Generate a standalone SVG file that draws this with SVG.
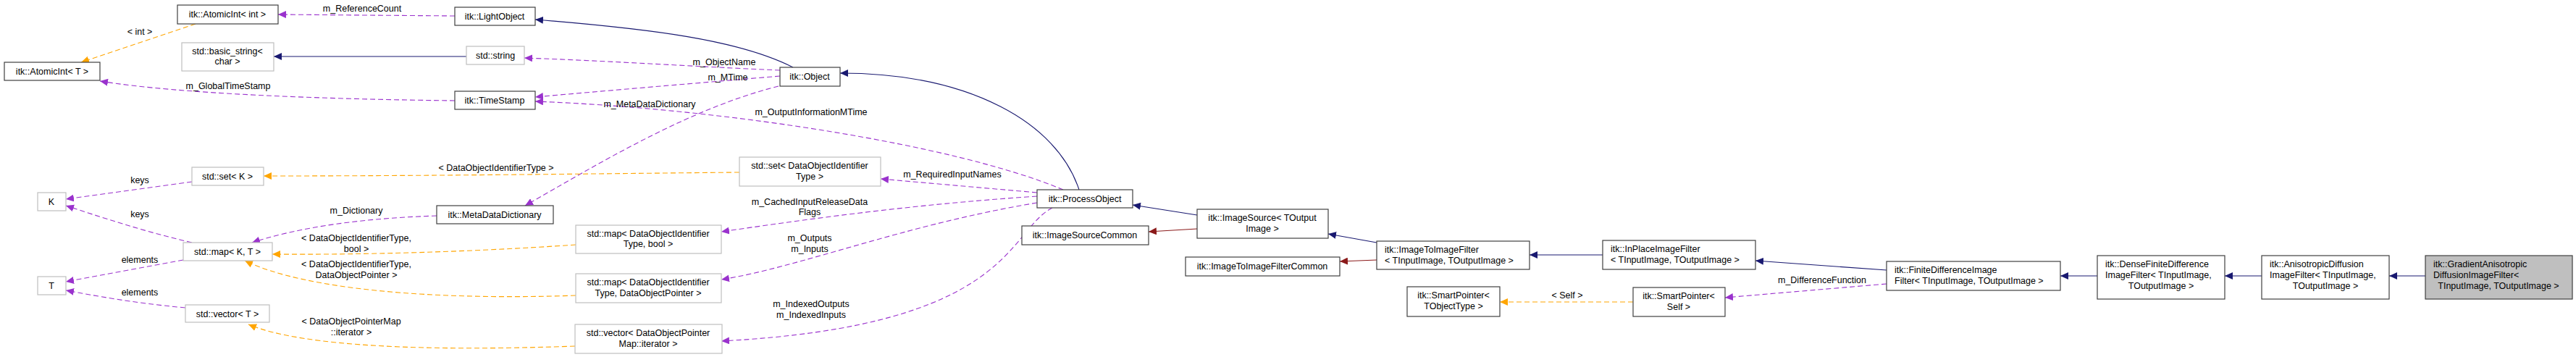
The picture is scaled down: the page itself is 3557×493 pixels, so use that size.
<svg xmlns="http://www.w3.org/2000/svg" width="3557" height="493" viewBox="0 0 3557 493">
<style>
text{font-family:"Liberation Sans",Arial,sans-serif;font-size:12.5px;fill:#000;text-anchor:middle}
text.l{text-anchor:start}
.n rect{fill:#fff;stroke:#404040;stroke-width:1.2}
.g rect{fill:#fff;stroke:#bfbfbf;stroke-width:1.2}
.e path{fill:none;stroke-width:1.1}
.b{stroke:#191970}
.r{stroke:#8b1a1a}
.p{stroke:#9a32cd;stroke-dasharray:7,4}
.o{stroke:#ffa500;stroke-dasharray:7,4}
</style>
<defs>
<marker id="mb" markerWidth="12" markerHeight="10" refX="11" refY="5" orient="auto" markerUnits="userSpaceOnUse"><path d="M0,0L11,5L0,10z" fill="#191970"/></marker>
<marker id="mr" markerWidth="12" markerHeight="10" refX="11" refY="5" orient="auto" markerUnits="userSpaceOnUse"><path d="M0,0L11,5L0,10z" fill="#8b1a1a"/></marker>
<marker id="mp" markerWidth="12" markerHeight="10" refX="11" refY="5" orient="auto" markerUnits="userSpaceOnUse"><path d="M0,0L11,5L0,10z" fill="#9a32cd"/></marker>
<marker id="mo" markerWidth="12" markerHeight="10" refX="11" refY="5" orient="auto" markerUnits="userSpaceOnUse"><path d="M0,0L11,5L0,10z" fill="#ffa500"/></marker>
</defs>
<rect width="3557" height="493" fill="#fff"/>
<g id="edges" class="e">
<path class="b" marker-end="url(#mb)" d="M1095,93C1020,55,900,40,739,27"/>
<path class="b" marker-end="url(#mb)" d="M644,78L378,78"/>
<path class="b" marker-end="url(#mb)" d="M1490,262C1460,170,1340,101,1160,101"/>
<path class="b" marker-end="url(#mb)" d="M1653,297L1564,283"/>
<path class="b" marker-end="url(#mb)" d="M1901,335L1834,323"/>
<path class="b" marker-end="url(#mb)" d="M2213,352L2112,352"/>
<path class="b" marker-end="url(#mb)" d="M2605,373L2424,360"/>
<path class="b" marker-end="url(#mb)" d="M2896,381L2845,381"/>
<path class="b" marker-end="url(#mb)" d="M3123,381L3072,381"/>
<path class="b" marker-end="url(#mb)" d="M3349,381L3299,381"/>
<path class="r" marker-end="url(#mr)" d="M1653,316L1586,320"/>
<path class="r" marker-end="url(#mr)" d="M1901,359L1850,361"/>
<path class="p" marker-end="url(#mp)" d="M628,22L384,20"/>
<path class="p" marker-end="url(#mp)" d="M628,139C450,137,250,130,138,112"/>
<path class="p" marker-end="url(#mp)" d="M1077,97C960,92,840,84,724,80"/>
<path class="p" marker-end="url(#mp)" d="M1077,105C960,115,840,125,739,134"/>
<path class="p" marker-end="url(#mp)" d="M1468,262C1320,200,1000,150,739,140"/>
<path class="p" marker-end="url(#mp)" d="M1075,119C950,150,820,230,725,284"/>
<path class="p" marker-end="url(#mp)" d="M1432,266L1216,247"/>
<path class="p" marker-end="url(#mp)" d="M1432,271C1250,283,1100,305,996,320"/>
<path class="p" marker-end="url(#mp)" d="M1432,280C1250,310,1100,370,996,386"/>
<path class="p" marker-end="url(#mp)" d="M1453,287C1390,320,1400,450,996,471"/>
<path class="p" marker-end="url(#mp)" d="M265,251L91,275"/>
<path class="p" marker-end="url(#mp)" d="M265,335C200,320,140,300,91,284"/>
<path class="p" marker-end="url(#mp)" d="M253,359L91,389"/>
<path class="p" marker-end="url(#mp)" d="M256,425C180,418,130,408,91,401"/>
<path class="p" marker-end="url(#mp)" d="M603,298C480,302,400,318,348,335"/>
<path class="p" marker-end="url(#mp)" d="M2605,392L2382,411"/>
<path class="o" marker-end="url(#mo)" d="M270,33L112,86"/>
<path class="o" marker-end="url(#mo)" d="M1021,238C800,240,600,243,364,243"/>
<path class="o" marker-end="url(#mo)" d="M795,338C650,348,500,352,376,351"/>
<path class="o" marker-end="url(#mo)" d="M795,408C600,415,420,400,338,360"/>
<path class="o" marker-end="url(#mo)" d="M794,478C600,485,420,480,343,448"/>
<path class="o" marker-end="url(#mo)" d="M2255,417L2071,417"/>
</g>
<g id="labels">
<text x="500" y="16">m_ReferenceCount</text>
<text x="315" y="123">m_GlobalTimeStamp</text>
<text x="193" y="48">&lt; int &gt;</text>
<text x="1000" y="90">m_ObjectName</text>
<text x="1005" y="111">m_MTime</text>
<text x="897" y="148">m_MetaDataDictionary</text>
<text x="1120" y="159">m_OutputInformationMTime</text>
<text x="685" y="236">&lt; DataObjectIdentifierType &gt;</text>
<text x="1315" y="245">m_RequiredInputNames</text>
<text x="1118" y="283">m_CachedInputReleaseData</text>
<text x="1118" y="297">Flags</text>
<text x="1118" y="333">m_Outputs</text>
<text x="1118" y="348">m_Inputs</text>
<text x="1120" y="424">m_IndexedOutputs</text>
<text x="1120" y="439">m_IndexedInputs</text>
<text x="193" y="253">keys</text>
<text x="193" y="300">keys</text>
<text x="193" y="363">elements</text>
<text x="193" y="408">elements</text>
<text x="492" y="295">m_Dictionary</text>
<text x="492" y="333">&lt; DataObjectIdentifierType,</text>
<text x="492" y="348">bool &gt;</text>
<text x="492" y="369">&lt; DataObjectIdentifierType,</text>
<text x="492" y="384">DataObjectPointer &gt;</text>
<text x="485" y="448">&lt; DataObjectPointerMap</text>
<text x="485" y="463">::iterator &gt;</text>
<text x="2164" y="412">&lt; Self &gt;</text>
<text x="2516" y="391">m_DifferenceFunction</text>
</g>
<g id="AtomicIntInt" class="n"><rect x="245" y="7" width="139" height="26"/><text x="314" y="24">itk::AtomicInt&lt; int &gt;</text></g>
<g id="basicString" class="g"><rect x="251" y="59" width="127" height="39"/><text x="314" y="75">std::basic_string&lt;</text><text x="314" y="89">char &gt;</text></g>
<g id="AtomicIntT" class="n"><rect x="6" y="86" width="132" height="25"/><text x="72" y="103">itk::AtomicInt&lt; T &gt;</text></g>
<g id="setK" class="g"><rect x="265" y="231" width="99" height="25"/><text x="314" y="248">std::set&lt; K &gt;</text></g>
<g id="K" class="g"><rect x="52" y="266" width="39" height="25"/><text x="71" y="283">K</text></g>
<g id="mapKT" class="g"><rect x="253" y="335" width="123" height="25"/><text x="314" y="352">std::map&lt; K, T &gt;</text></g>
<g id="T" class="g"><rect x="52" y="382" width="39" height="25"/><text x="71" y="399">T</text></g>
<g id="vectorT" class="g"><rect x="256" y="421" width="116" height="24"/><text x="314" y="438">std::vector&lt; T &gt;</text></g>
<g id="LightObject" class="n"><rect x="628" y="10" width="111" height="25"/><text x="683" y="27">itk::LightObject</text></g>
<g id="stdString" class="g"><rect x="644" y="64" width="80" height="25"/><text x="684" y="81">std::string</text></g>
<g id="TimeStamp" class="n"><rect x="628" y="126" width="111" height="25"/><text x="683" y="143">itk::TimeStamp</text></g>
<g id="MetaDataDictionary" class="n"><rect x="603" y="284" width="161" height="25"/><text x="683" y="301">itk::MetaDataDictionary</text></g>
<g id="mapBool" class="g"><rect x="795" y="311" width="201" height="39"/><text x="895" y="327">std::map&lt; DataObjectIdentifier</text><text x="895" y="341">Type, bool &gt;</text></g>
<g id="mapPtr" class="g"><rect x="795" y="378" width="201" height="40"/><text x="895" y="394">std::map&lt; DataObjectIdentifier</text><text x="895" y="409">Type, DataObjectPointer &gt;</text></g>
<g id="vectorIter" class="g"><rect x="794" y="448" width="203" height="40"/><text x="895" y="464">std::vector&lt; DataObjectPointer</text><text x="895" y="479">Map::iterator &gt;</text></g>
<g id="Object" class="n"><rect x="1077" y="93" width="83" height="26"/><text x="1118" y="110">itk::Object</text></g>
<g id="setDOIT" class="g"><rect x="1021" y="217" width="195" height="40"/><text x="1118" y="233">std::set&lt; DataObjectIdentifier</text><text x="1118" y="248">Type &gt;</text></g>
<g id="ProcessObject" class="n"><rect x="1432" y="262" width="132" height="25"/><text x="1498" y="279">itk::ProcessObject</text></g>
<g id="ImageSourceCommon" class="n"><rect x="1411" y="312" width="175" height="26"/><text x="1498" y="329">itk::ImageSourceCommon</text></g>
<g id="ImageSource" class="n"><rect x="1653" y="289" width="181" height="40"/><text x="1743" y="305">itk::ImageSource&lt; TOutput</text><text x="1743" y="320">Image &gt;</text></g>
<g id="ImageToImageFilterCommon" class="n"><rect x="1637" y="355" width="213" height="26"/><text x="1743" y="372">itk::ImageToImageFilterCommon</text></g>
<g id="ImageToImageFilter" class="n"><rect x="1901" y="333" width="211" height="39"/><text class="l" x="1912" y="349">itk::ImageToImageFilter</text><text class="l" x="1912" y="364">&lt; TInputImage, TOutputImage &gt;</text></g>
<g id="SmartPointerT" class="n"><rect x="1943" y="396" width="128" height="41"/><text x="2007" y="412">itk::SmartPointer&lt;</text><text x="2007" y="427">TObjectType &gt;</text></g>
<g id="InPlaceImageFilter" class="n"><rect x="2213" y="332" width="211" height="40"/><text class="l" x="2224" y="348">itk::InPlaceImageFilter</text><text class="l" x="2224" y="363">&lt; TInputImage, TOutputImage &gt;</text></g>
<g id="SmartPointerSelf" class="n"><rect x="2255" y="397" width="127" height="40"/><text x="2318" y="413">itk::SmartPointer&lt;</text><text x="2318" y="428">Self &gt;</text></g>
<g id="FiniteDifference" class="n"><rect x="2605" y="361" width="240" height="40"/><text class="l" x="2616" y="377">itk::FiniteDifferenceImage</text><text class="l" x="2616" y="392">Filter&lt; TInputImage, TOutputImage &gt;</text></g>
<g id="DenseFiniteDifference" class="n"><rect x="2896" y="353" width="176" height="60"/><text class="l" x="2907" y="369">itk::DenseFiniteDifference</text><text class="l" x="2907" y="384">ImageFilter&lt; TInputImage,</text><text x="2984" y="399">TOutputImage &gt;</text></g>
<g id="AnisotropicDiffusion" class="n"><rect x="3123" y="353" width="176" height="60"/><text class="l" x="3134" y="369">itk::AnisotropicDiffusion</text><text class="l" x="3134" y="384">ImageFilter&lt; TInputImage,</text><text x="3211" y="399">TOutputImage &gt;</text></g>
<g id="GradientAnisotropic" class="n"><rect x="3349" y="353" width="203" height="60" style="fill:#bfbfbf"/><text class="l" x="3360" y="369">itk::GradientAnisotropic</text><text class="l" x="3360" y="384">DiffusionImageFilter&lt;</text><text x="3450" y="399">TInputImage, TOutputImage &gt;</text></g>
</svg>
